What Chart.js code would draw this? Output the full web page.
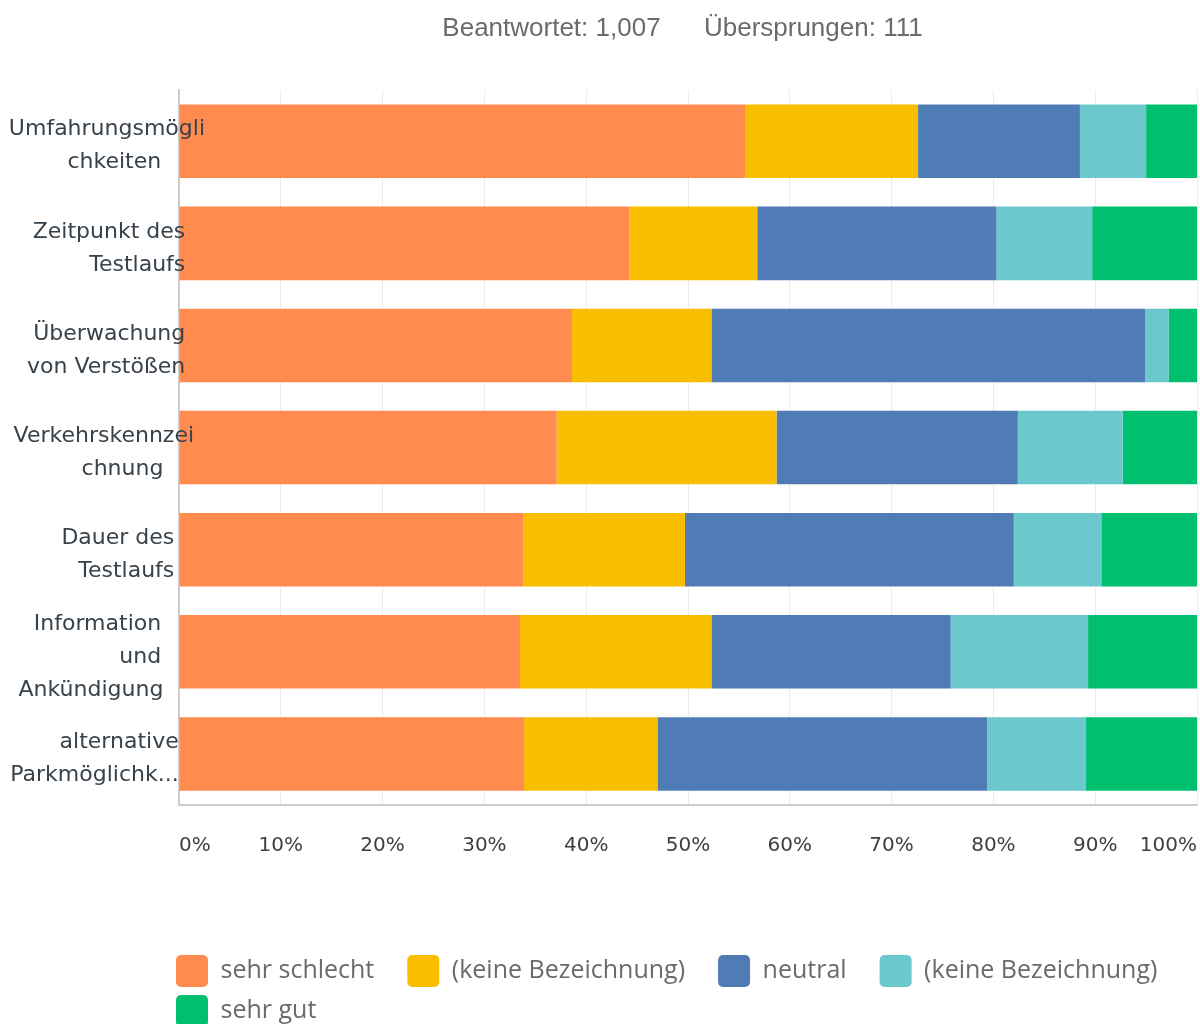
<!DOCTYPE html>
<html lang="de">
<head>
<meta charset="utf-8">
<title>Testlauf Bewertung</title>
<script src="https://cdn.jsdelivr.net/npm/chart.js@4.4.1/dist/chart.umd.min.js"></script>
<style>
  html, body { margin: 0; padding: 0; background: #fff; }
  #wrap { width: 1200px; height: 1037px; }
</style>
</head>
<body>
<div id="wrap"><canvas id="chart" width="1200" height="1037"></canvas></div>
<script>
const categories = [
  ['Umfahrungsmögli', 'chkeiten'],
  ['Zeitpunkt des', 'Testlaufs'],
  ['Überwachung', 'von Verstößen'],
  ['Verkehrskennzei', 'chnung'],
  ['Dauer des', 'Testlaufs'],
  ['Information', 'und', 'Ankündigung'],
  ['alternative', 'Parkmöglichk...']
];
const seriesNames = ['sehr schlecht', '(keine Bezeichnung)', 'neutral', '(keine Bezeichnung)', 'sehr gut'];
const sehrSchlecht = [55.6, 44.2, 38.6, 37.1, 33.8, 33.5, 33.9];
const keineBez1    = [17.0, 12.6, 13.7, 21.6, 15.9, 18.8, 13.1];
const neutral      = [15.9, 23.5, 42.6, 23.7, 32.3, 23.5, 32.4];
const keineBez2    = [6.5, 9.4, 2.3, 10.3, 8.6, 13.5, 9.7];
const sehrGut      = [5.0, 10.3, 2.8, 7.3, 9.4, 10.7, 10.9];
const xTicks = [0, 10, 20, 30, 40, 50, 60, 70, 80, 90, 100];

const colors = ['#ff8b4f', '#f9be00', '#507cb6', '#6bc8cd', '#00bf6f'];

// wrapped labels sit at slightly different right edges, nudge each line left
const labelInset = [[0, 43], [20, 20], [19, 20], [11, 42], [31, 31], [43, 43, 42], [27, 27]];
const labelRight = 205;   // right edge of the widest label line
const plotLeft = 179;

const yFont = { family: 'DejaVu Sans', size: 22, lineHeight: 1.5 };
const legendFont = { family: 'Open Sans', size: 25 };

const measure = document.createElement('canvas').getContext('2d');
function setFont(font) {
  measure.font = font.size + 'px ' + font.family;
}
function spacer(px, font) {
  setFont(font);
  const w = measure.measureText('\u200A').width || 1;
  return '\u200A'.repeat(Math.max(0, Math.round(px / w)));
}

const yLabels = categories.map((lines, i) => lines.map((line, j) => line + spacer(labelInset[i][j], yFont)));
setFont(yFont);
const yWidest = Math.max(...yLabels.flat().map(l => measure.measureText(l).width));

const series = [sehrSchlecht, keineBez1, neutral, keineBez2, sehrGut];

new Chart(document.getElementById('chart'), {
  type: 'bar',
  data: {
    labels: yLabels,
    datasets: series.map((values, i) => ({
      label: seriesNames[i],
      data: values,
      backgroundColor: colors[i],
      borderWidth: 0,
      barPercentage: 0.9,
      categoryPercentage: 0.8
    }))
  },
  options: {
    indexAxis: 'y',
    responsive: false,
    animation: false,
    layout: { padding: { left: 168, right: 3, top: 0, bottom: 0 } },
    scales: {
      x: {
        stacked: true,
        min: 0,
        max: 100,
        afterBuildTicks: s => { s.ticks = xTicks.map(v => ({ value: v })); },
        afterFit: s => { s.height = 142; },
        grid: { color: '#ebebeb', lineWidth: 1, drawTicks: true, tickLength: 29, tickColor: 'rgba(0,0,0,0)' },
        border: { display: true, color: '#cccccc', width: 2 },
        ticks: {
          align: 'inner',
          padding: 0,
          color: '#3f3f3f',
          font: { family: 'DejaVu Sans', size: 20 },
          callback: v => v + '%'
        }
      },
      y: {
        stacked: true,
        afterFit: s => { s.width = 11; },
        grid: { display: false, drawTicks: false },
        border: { display: true, color: '#cccccc', width: 2 },
        ticks: {
          z: 1,
          mirror: true,
          crossAlign: 'far',
          labelOffset: 5,
          padding: labelRight - plotLeft - yWidest,
          color: '#38424b',
          font: yFont
        }
      }
    },
    plugins: {
      title: {
        display: true,
        text: 'Beantwortet: 1,007      Übersprungen: 111',
        color: '#6b6b6b',
        font: { family: 'Liberation Sans', size: 26, weight: 'normal', lineHeight: 1.2 },
        padding: { top: 13, bottom: 46 }
      },
      legend: {
        position: 'bottom',
        align: 'start',
        labels: {
          boxWidth: 32,
          boxHeight: 32,
          padding: 8,
          color: '#6a6a6a',
          font: legendFont,
          useBorderRadius: true,
          borderRadius: 5,
          generateLabels: chart => {
            const items = Chart.defaults.plugins.legend.labels.generateLabels(chart);
            items.forEach(it => { it.text += spacer(24, legendFont); });
            return items;
          }
        }
      },
      tooltip: { enabled: false }
    }
  }
});
</script>
</body>
</html>
